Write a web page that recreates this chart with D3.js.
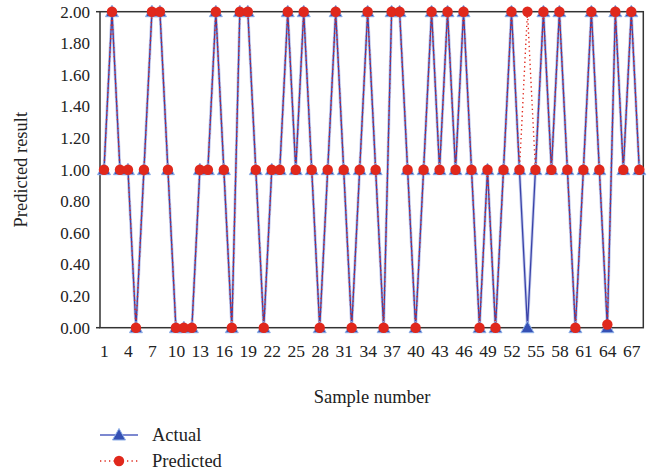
<!DOCTYPE html>
<html><head><meta charset="utf-8">
<script src="https://cdn.jsdelivr.net/npm/d3@7"></script>
<style>html,body{margin:0;padding:0;background:#fff;} svg text{font-family:"Liberation Serif","DejaVu Serif",serif !important;}</style>
</head><body>
<svg id="c" width="660" height="474"></svg>
<script>
const sampleNumbers = [1,2,3,4,5,6,7,8,9,10,11,12,13,14,15,16,17,18,19,20,21,22,23,24,25,26,27,28,29,30,31,32,33,34,35,36,37,38,39,40,41,42,43,44,45,46,47,48,49,50,51,52,53,54,55,56,57,58,59,60,61,62,63,64,65,66,67,68];
const actual = [1,2,1,1,0,1,2,2,1,0,0,0,1,1,2,1,0,2,2,1,0,1,1,2,1,2,1,0,1,2,1,0,1,2,1,0,2,2,1,0,1,2,1,2,1,2,1,0,1,0,1,2,1,0,1,2,1,2,1,0,1,2,1,0,2,1,2,1];
const predicted = [1,2,1,1,0,1,2,2,1,0,0,0,1,1,2,1,0,2,2,1,0,1,1,2,1,2,1,0,1,2,1,0,1,2,1,0,2,2,1,0,1,2,1,2,1,2,1,0,1,0,1,2,1,2,1,2,1,2,1,0,1,2,1,0.02,2,1,2,1];
const xTickLabels = [1,4,7,10,13,16,19,22,25,28,31,34,37,40,43,46,49,52,55,58,61,64,67];
const yTickLabels = [0,0.2,0.4,0.6,0.8,1.0,1.2,1.4,1.6,1.8,2.0];
const seriesNames = ["Actual","Predicted"];

const svg = d3.select("#c");
const L=100, R=643.3, T=11.7, B=327.7;
const x = d3.scaleLinear().domain([0.5, sampleNumbers.length+0.5]).range([L,R]);
const y = d3.scaleLinear().domain([0,2]).range([B,T]);
const blue="#3a42a8", red="#e0281c";
const fs=17, fst=18.5, ff='"Liberation Serif","DejaVu Serif",serif';

// axes
const yAxis = svg.append("g").attr("transform",`translate(${L},0)`)
  .call(d3.axisLeft(y).tickValues(yTickLabels).tickFormat(d3.format(".2f")).tickSize(0).tickPadding(10));
yAxis.attr("font-family",null).attr("font-size",null);
yAxis.select(".domain").remove();
yAxis.selectAll("text").style("font-size",fs+"px").attr("fill","#222").style("font-family",ff);

const xAxis = svg.append("g").attr("transform",`translate(0,${B})`)
  .call(d3.axisBottom(x).tickValues(xTickLabels).tickFormat(d3.format("d")).tickSize(0).tickPadding(17));
xAxis.attr("font-family",null).attr("font-size",null);
xAxis.select(".domain").remove();
xAxis.selectAll("text").style("font-size",(fs+0.5)+"px").attr("fill","#222").style("font-family",ff);

// frame
svg.append("rect").attr("x",L).attr("y",T).attr("width",R-L).attr("height",B-T)
  .attr("fill","none").attr("stroke","#333").attr("stroke-width",1.5);
[T,B].forEach(v=>svg.append("line").attr("x1",L-4).attr("x2",L).attr("y1",v).attr("y2",v).attr("stroke","#333").attr("stroke-width",1.5));

// titles
svg.append("text").attr("x",372).attr("y",403).attr("text-anchor","middle").style("font-size",fst+"px").attr("fill","#222").text("Sample number");
svg.append("text").attr("transform",`translate(27,${(T+B)/2}) rotate(-90)`).attr("text-anchor","middle").style("font-size",fst+"px").attr("fill","#222").text("Predicted result");

const line = d3.line().x((d,i)=>x(sampleNumbers[i])).y(d=>y(d));
const g = svg.append("g");
g.append("path").attr("d",line(actual)).attr("fill","none").attr("stroke","#9aa6e0").attr("stroke-width",3).attr("opacity",0.6);
g.append("path").attr("d",line(actual)).attr("fill","none").attr("stroke",blue).attr("stroke-width",1.3);
g.append("path").attr("d",line(predicted)).attr("fill","none").attr("stroke",red).attr("stroke-width",1.4).attr("stroke-dasharray","1.3,3.2");

const tri = "M0,-6.5L6.5,5L-6.5,5Z";
g.selectAll(".tri").data(actual).enter().append("path")
  .attr("d",tri).attr("transform",(d,i)=>`translate(${x(sampleNumbers[i])},${y(d)})`)
  .attr("fill","#3550b4").attr("stroke","#8fb0e8").attr("stroke-width",1);
g.selectAll(".dot").data(predicted).enter().append("circle")
  .attr("cx",(d,i)=>x(sampleNumbers[i])).attr("cy",d=>y(d)).attr("r",5.2).attr("fill",red);

// legend
const lg = svg.append("g");
lg.append("line").attr("x1",100).attr("x2",138).attr("y1",435).attr("y2",435).attr("stroke","#5060c0").attr("stroke-width",1.3);
lg.append("path").attr("d",tri).attr("transform","translate(119,435)").attr("fill","#3550b4").attr("stroke","#8fb0e8").attr("stroke-width",1);
lg.append("text").attr("x",152).attr("y",441).style("font-size",fst+"px").attr("fill","#222").text(seriesNames[0]);
lg.append("line").attr("x1",100).attr("x2",138).attr("y1",461).attr("y2",461).attr("stroke",red).attr("stroke-width",1.4).attr("stroke-dasharray","1.3,3.2");
lg.append("circle").attr("cx",119).attr("cy",461).attr("r",5.2).attr("fill",red);
lg.append("text").attr("x",152).attr("y",467).style("font-size",fst+"px").attr("fill","#222").text(seriesNames[1]);
</script>
</body></html>
